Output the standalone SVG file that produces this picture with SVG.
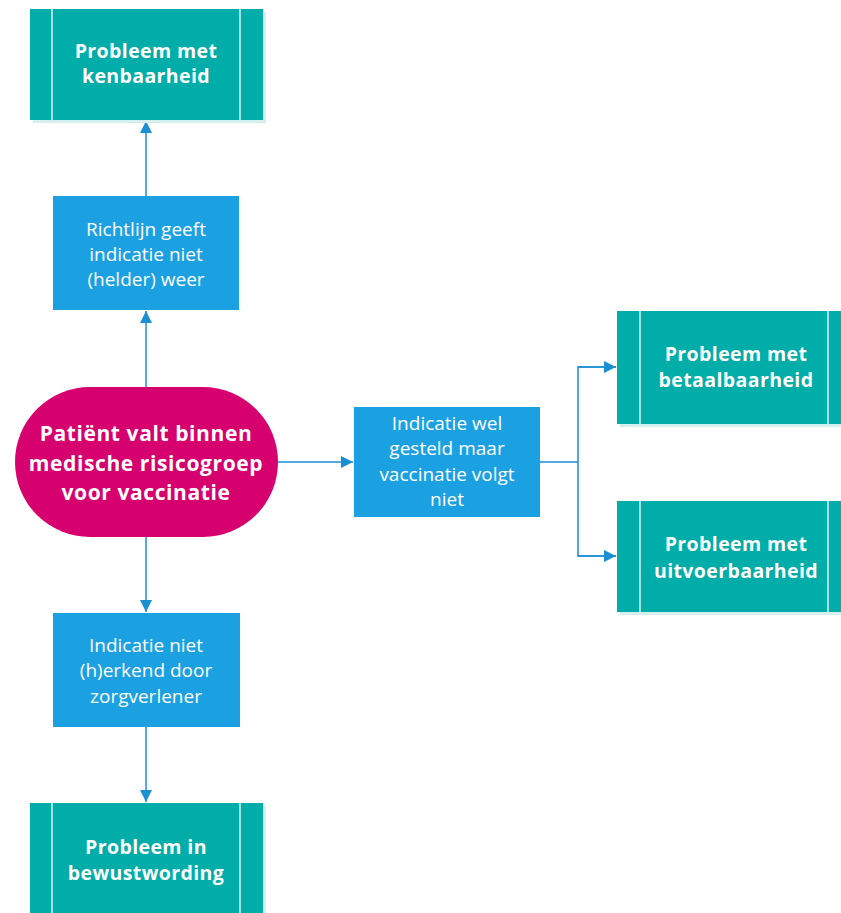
<svg xmlns="http://www.w3.org/2000/svg" width="841" height="913" viewBox="0 0 841 913">
<style>
.teal{fill:#00ada8}
.shadow{fill:#d5efee}
.inner{stroke:#d8f3f1;stroke-width:1.5}
.blue{fill:#1ba1e2}
.pink{fill:#d6006f}
.tb{font-family:"Open Sans",sans-serif;font-weight:bold;font-size:19.5px;letter-spacing:0.4px;fill:#fff;text-anchor:middle}
.pb{font-family:"Open Sans",sans-serif;font-weight:bold;font-size:21px;letter-spacing:0.6px;fill:#fff;text-anchor:middle}
.bn{font-family:"Open Sans",sans-serif;font-size:19px;fill:#fff;text-anchor:middle}
.con{stroke:#1b8fd4;stroke-width:1.5;fill:none}
</style>
<defs>
<marker id="ah" viewBox="0 0 12 12" refX="12" refY="6" markerWidth="12" markerHeight="12" markerUnits="userSpaceOnUse" orient="auto">
<path d="M0,0 L12,6 L0,12 z" fill="#1b8fd4"/>
</marker>
</defs>
<rect width="841" height="913" fill="#fff"/>
<g id="connectors">
<line class="con" x1="146" y1="387" x2="146" y2="311" marker-end="url(#ah)"/>
<line class="con" x1="146" y1="196" x2="146" y2="121" marker-end="url(#ah)"/>
<line class="con" x1="146" y1="537" x2="146" y2="612" marker-end="url(#ah)"/>
<line class="con" x1="146" y1="727" x2="146" y2="802" marker-end="url(#ah)"/>
<line class="con" x1="278" y1="462" x2="353" y2="462" marker-end="url(#ah)"/>
<line class="con" x1="540" y1="462" x2="578" y2="462"/>
<polyline class="con" points="616,367 578,367 578,556 616,556"/>
<line class="con" x1="578" y1="367" x2="616" y2="367" marker-end="url(#ah)"/>
<line class="con" x1="578" y1="556" x2="616" y2="556" marker-end="url(#ah)"/>
</g>
<g id="kenbaarheid">
<rect class="shadow" x="33" y="12" width="233" height="111"/>
<rect class="teal" x="30" y="9" width="233" height="111"/>
<line class="inner" x1="52" y1="9" x2="52" y2="120"/>
<line class="inner" x1="240" y1="9" x2="240" y2="120"/>
<text class="tb" x="146" y="58">Probleem met</text>
<text class="tb" x="146" y="83">kenbaarheid</text>
</g>
<g id="richtlijn">
<rect class="blue" x="53" y="196" width="186" height="114"/>
<text class="bn" x="146" y="236">Richtlijn geeft</text>
<text class="bn" x="146" y="261">indicatie niet</text>
<text class="bn" x="146" y="286">(helder) weer</text>
</g>
<g id="patient">
<rect class="pink" x="15" y="387" width="263" height="150" rx="75" ry="75"/>
<text class="pb" x="146" y="441">Patiënt valt binnen</text>
<text class="pb" x="146" y="471">medische risicogroep</text>
<text class="pb" x="146" y="500">voor vaccinatie</text>
</g>
<g id="indicatie-wel">
<rect class="blue" x="354" y="407" width="186" height="110"/>
<text class="bn" x="447" y="430">Indicatie wel</text>
<text class="bn" x="447" y="455">gesteld maar</text>
<text class="bn" x="447" y="481">vaccinatie volgt</text>
<text class="bn" x="447" y="506">niet</text>
</g>
<g id="betaalbaarheid">
<rect class="shadow" x="620" y="314" width="233" height="113"/>
<rect class="teal" x="617" y="311" width="233" height="113"/>
<line class="inner" x1="640" y1="311" x2="640" y2="424"/>
<line class="inner" x1="828" y1="311" x2="828" y2="424"/>
<text class="tb" x="736" y="361">Probleem met</text>
<text class="tb" x="736" y="387">betaalbaarheid</text>
</g>
<g id="uitvoerbaarheid">
<rect class="shadow" x="620" y="504" width="233" height="111"/>
<rect class="teal" x="617" y="501" width="233" height="111"/>
<line class="inner" x1="640" y1="501" x2="640" y2="612"/>
<line class="inner" x1="828" y1="501" x2="828" y2="612"/>
<text class="tb" x="736" y="551">Probleem met</text>
<text class="tb" x="736" y="578">uitvoerbaarheid</text>
</g>
<g id="indicatie-niet">
<rect class="blue" x="53" y="613" width="187" height="114"/>
<text class="bn" x="146" y="652">Indicatie niet</text>
<text class="bn" x="146" y="677">(h)erkend door</text>
<text class="bn" x="146" y="703">zorgverlener</text>
</g>
<g id="bewustwording">
<rect class="shadow" x="33" y="806" width="233" height="111"/>
<rect class="teal" x="30" y="803" width="233" height="111"/>
<line class="inner" x1="52" y1="803" x2="52" y2="913"/>
<line class="inner" x1="240" y1="803" x2="240" y2="913"/>
<text class="tb" x="146" y="854">Probleem in</text>
<text class="tb" x="146" y="880">bewustwording</text>
</g>
</svg>
